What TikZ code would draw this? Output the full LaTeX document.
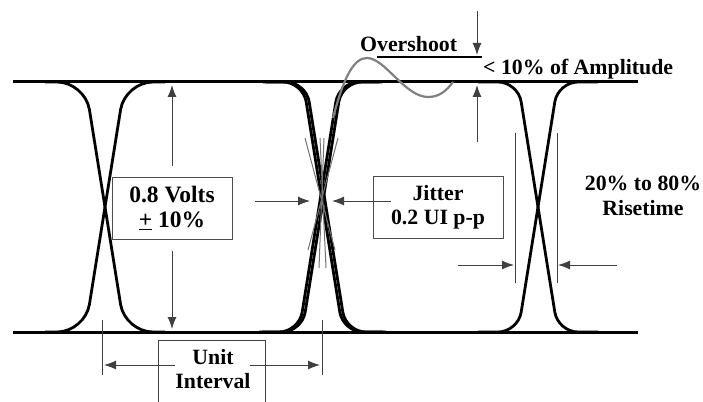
\documentclass[tikz,border=0pt]{standalone}
\usepackage{fontspec}
\setmainfont{Liberation Serif}
\usetikzlibrary{arrows.meta}

\begin{document}
\begin{tikzpicture}[x=1pt,y=-1pt]
	\tikzset{>={Latex[length=12pt,width=9pt]},
		rail/.style={line width=3pt},
		trans/.style={line width=2.8pt,rounded corners=#1},
		trans/.default=20pt,
		over/.style={line width=2.2pt,black!50},
		dim/.style={line width=1pt,black!75},
		jit/.style={line width=1pt,black!55},
		lbl/.style={font=\fontsize{21.8}{24.5}\selectfont\bfseries,inner sep=0pt,align=center},
		box/.style={lbl,draw=black!70,line width=1pt,minimum height=62pt}}
	\useasboundingbox (0,0) rectangle (703,401);

	\draw[rail] (13,82) -- (638,82);
	\draw[rail] (13,332) -- (638,332);
	\foreach \c/\r in {105/28pt,538/20pt} {
		\draw[trans=\r] (\c-60,82) -- (\c-20,82) -- (\c+20,332) -- (\c+60,332);
		\draw[trans=\r] (\c-60,332) -- (\c-20,332) -- (\c+20,82) -- (\c+60,82);
	}
	\foreach \d in {0,3} {
		\draw[trans] (263+\d,82) -- (303+\d,82) -- (343+\d,332) -- (383+\d,332);
		\draw[trans] (259+\d,332) -- (299+\d,332) -- (339+\d,82) -- (379+\d,82);
	}
	\draw[over] (333,118) .. controls (344,76) and (354,58) .. (367,58) .. controls (385,58) and (405,97) .. (428,97) .. controls (440,97) and (447,90) .. (453,82);

	\draw[jit] (305,138) -- (335,250);
	\draw[jit] (338,138) -- (308,250);
	\draw[jit] (320,138) -- (326,268);
	\draw[jit] (324,138) -- (319,268);

	\node[box,minimum width=120pt,font=\fontsize{23.5}{25}\selectfont\bfseries] (volts) at (172,208) {0.8 Volts\\\underline{+} 10\%};
	\node[box,minimum width=130pt] (jitter) at (438,207.5) {Jitter\\0.2 UI p-p};
	\node[lbl] (ui) at (213,369) {Unit\\Interval};
	\draw[dim] (158,415) -- (158,340) -- (265,340) -- (265,415);
	\node[lbl,anchor=base west] (overshoot) at (360,52) {Overshoot};
	\node[lbl,anchor=base west] (amp) at (483,75) {< 10\% of Amplitude};
	\node[lbl] (rise) at (643,196) {20\% to 80\%\\Risetime};

	\coordinate (vtop) at (172,85);
	\coordinate (vbot) at (172,329);
	\draw[dim,->] ([yshift=11pt]volts.north) -- (vtop);
	\draw[dim,->] ([yshift=-11pt]volts.south) -- (vbot);

	\draw[line width=2.6pt] (377,57) -- (482,57);
	\coordinate (odown) at (477,55);
	\coordinate (oup) at (477,85);
	\draw[dim,->] (477,11) -- (odown);
	\draw[dim,->] (477,142) -- (oup);

	\coordinate (jl) at (310,201);
	\coordinate (jr) at (332,201);
	\draw[dim,->] (255,201) -- (jl);
	\draw[dim,->] ([xshift=18pt]jitter.west |- jr) -- (jr);

	\foreach \x in {515,557} \draw[dim] (\x,133) -- (\x,283);
	\draw[dim,->] (458,265) -- (514,265);
	\draw[dim,->] (617,265) -- (558,265);

	\foreach \x in {102,322} \draw[dim] (\x,320) -- (\x,375);
	\draw[dim,->] (175,365) -- (104,365);
	\draw[dim,->] (250,365) -- (320,365);
\end{tikzpicture}
\end{document}
